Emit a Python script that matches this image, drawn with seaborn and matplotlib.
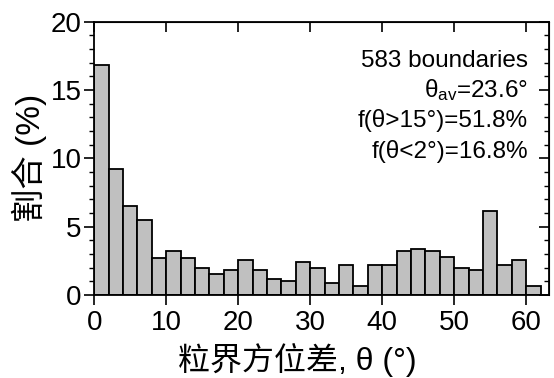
import numpy as np
import pandas as pd
import matplotlib
matplotlib.use("Agg")
import matplotlib.pyplot as plt
import seaborn as sns
from matplotlib.ticker import MultipleLocator

# ---- data ----
bin_edges = list(range(0, 64, 2))  # 0,2,...,62
percent = [16.8, 9.2, 6.5, 5.5, 2.7, 3.2, 2.7, 2.0, 1.5, 1.85,
           2.55, 1.85, 1.2, 1.0, 2.4, 2.0, 0.85, 2.2, 0.65, 2.2,
           2.2, 3.25, 3.4, 3.25, 2.75, 2.0, 1.85, 6.15, 2.2, 2.55, 0.65]
x_ticks = [0, 10, 20, 30, 40, 50, 60]
y_ticks = [0, 5, 10, 15, 20]
notes = ["583 boundaries", r"θ$_{\mathrm{av}}$=23.6°", "f(θ>15°)=51.8%", "f(θ<2°)=16.8%"]
xlabel = "粒界方位差, θ (°)"
ylabel = "割合 (%)"

sns.set_style("ticks")
plt.rcParams["font.family"] = ["Liberation Sans", "Noto Sans CJK SC", "DejaVu Sans"]
plt.rcParams["mathtext.fontset"] = "custom"
plt.rcParams["mathtext.rm"] = "Liberation Sans"
plt.rcParams["mathtext.it"] = "Liberation Sans"
for k in ["text.color", "axes.labelcolor", "xtick.color", "ytick.color", "axes.edgecolor"]:
    plt.rcParams[k] = "black"

centers = [(bin_edges[i] + bin_edges[i + 1]) / 2 for i in range(len(percent))]
df = pd.DataFrame({"theta": centers, "pct": percent})

fig = plt.figure(figsize=(5.54, 3.78), dpi=100)
ax = fig.add_axes([0.170, 0.2196, 0.8215, 0.723])

sns.histplot(data=df, x="theta", weights="pct", bins=bin_edges, ax=ax,
             color="#c0c0c0", edgecolor="black", linewidth=1.3, alpha=1)

ax.set_xlim(0, 63.2)
ax.set_ylim(0, 20)
ax.set_xticks(x_ticks)
ax.set_yticks(y_ticks)
ax.yaxis.set_minor_locator(MultipleLocator(1))
ax.tick_params(axis="x", which="major", direction="out", length=7, width=1.2,
               labelsize=20, pad=4)
ax.tick_params(axis="y", which="major", direction="out", length=7, width=1.2,
               labelsize=20, pad=2)
ax.tick_params(axis="y", which="minor", direction="out", length=3.5, width=1.0)
for s in ax.spines.values():
    s.set_visible(True)
    s.set_linewidth(1.3)
    s.set_color("black")
ax.set_xlabel("")
ax.set_ylabel("")

top = ax.secondary_xaxis("top")
top.set_xticks(x_ticks)
top.tick_params(direction="in", length=7, width=1.2, labeltop=False)
right = ax.secondary_yaxis("right")
right.set_yticks(y_ticks)
right.yaxis.set_minor_locator(MultipleLocator(1))
right.tick_params(which="major", direction="in", length=7, width=1.2, labelright=False)
right.tick_params(which="minor", direction="in", length=3.5, width=1.0)

for i, t in enumerate(notes):
    ax.text(0.953, 0.835 - i * 0.111, t, transform=ax.transAxes,
            ha="right", va="baseline", fontsize=17.5)

fig.text(0.536, 0.047, xlabel, ha="center", va="center", fontsize=23,
         family=["Liberation Sans", "Noto Sans CJK SC"])
fig.text(0.053, 0.582, ylabel, ha="center", va="center", fontsize=24, rotation=90,
         family=["Liberation Sans", "Noto Sans CJK SC"])

fig.savefig("out.png", dpi=100)
